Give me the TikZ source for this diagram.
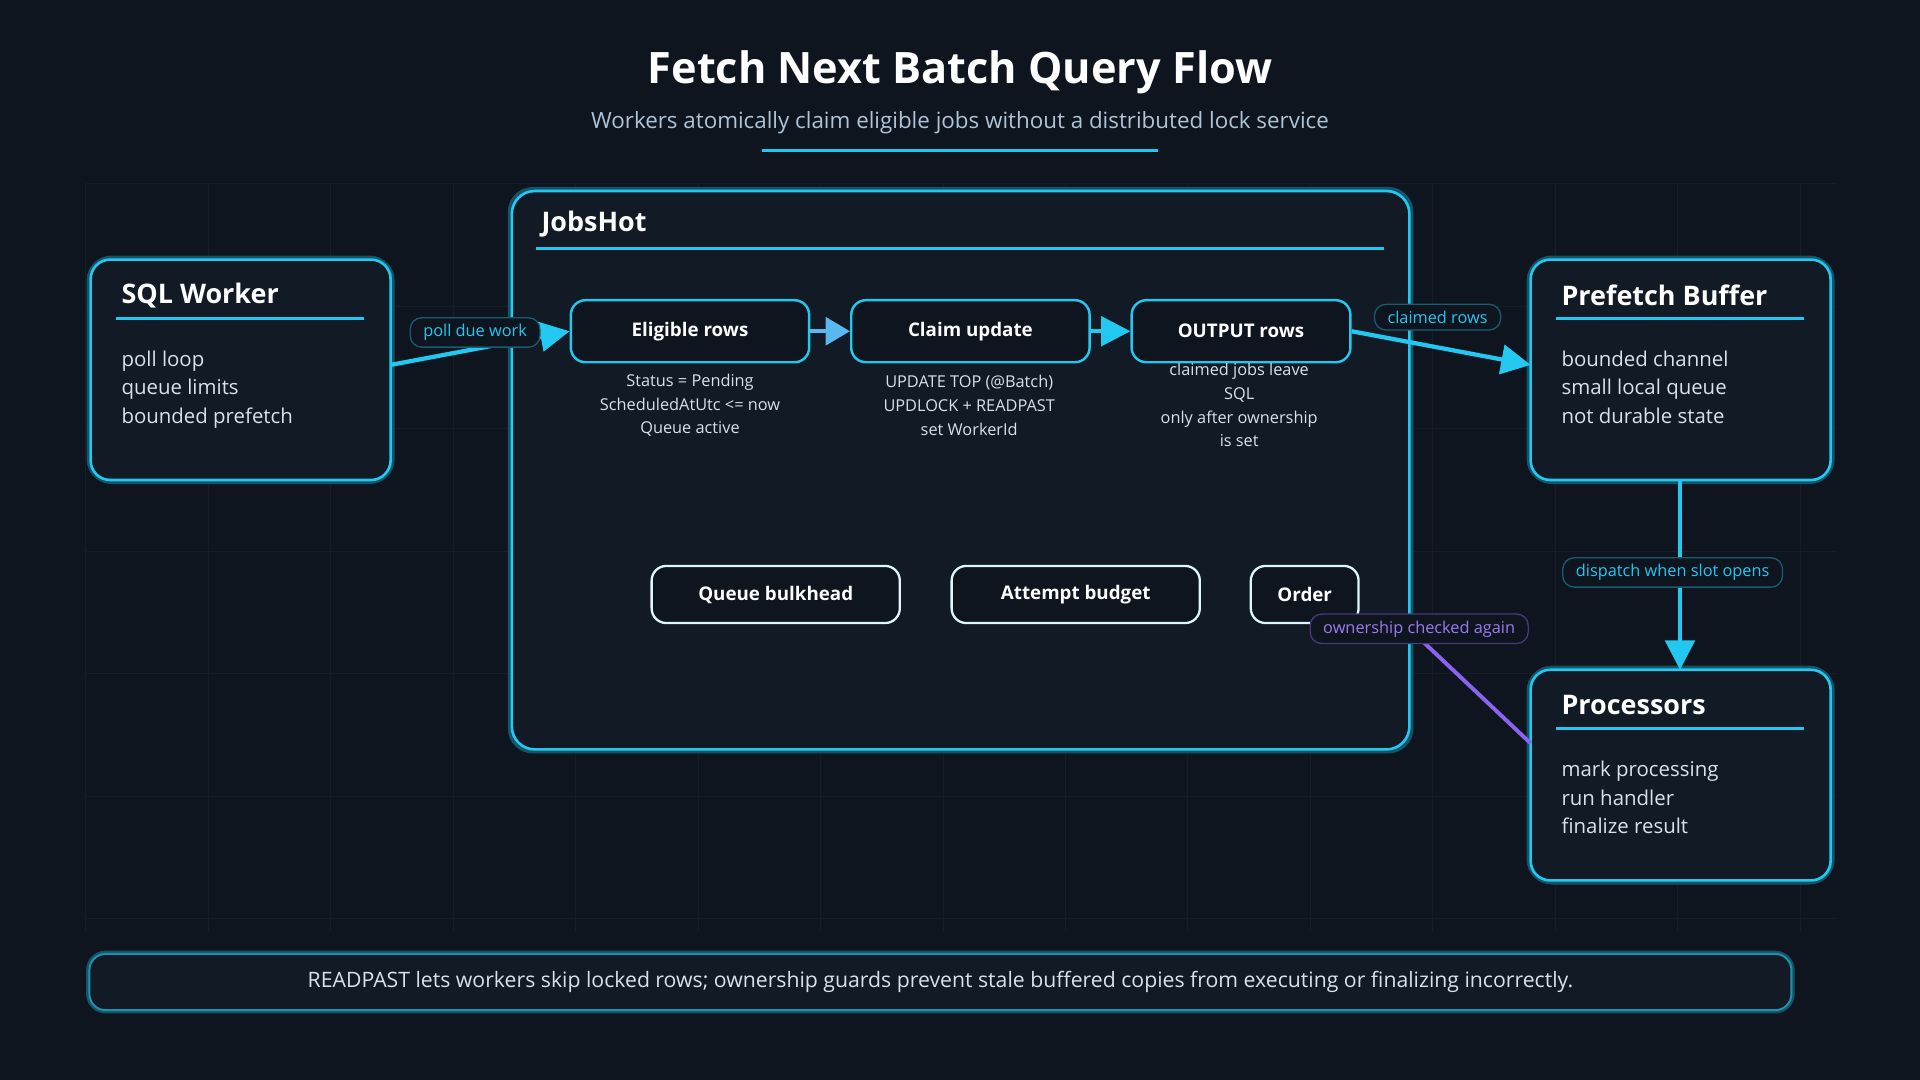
\documentclass[tikz,border=0pt]{standalone}
\usepackage{fontspec}
\setmainfont{Open Sans}
\usetikzlibrary{arrows.meta}
\definecolor{bg}{HTML}{0E151E}
\definecolor{panel}{HTML}{111A25}
\definecolor{cy}{HTML}{22C8F0}
\definecolor{lb}{HTML}{5AB8F0}
\definecolor{sub}{HTML}{AFC4D8}
\definecolor{txt}{HTML}{D6E2EE}
\definecolor{pur}{HTML}{8A63F0}
\definecolor{grid}{HTML}{141D28}
\begin{document}
\begin{tikzpicture}[x=0.75pt,y=-0.75pt,
 card/.style={draw=cy,line width=1.6pt,fill=panel,rounded corners=12pt},
 glow/.style={draw=cy!35!bg,line width=5pt,rounded corners=13pt},
 stepbox/.style={draw=cy,line width=1.5pt,fill=bg,rounded corners=9pt,minimum height=38pt,text=white,font=\bfseries\fontsize{11.5}{14}\selectfont},
 gate/.style={draw=white!85!cy,line width=1.4pt,fill=bg,rounded corners=9pt,minimum height=35pt,text=white,font=\bfseries\fontsize{11.5}{14}\selectfont},
 pill/.style={draw=cy!40!bg,line width=0.8pt,fill=bg,rounded corners=7pt,inner xsep=8pt,inner ysep=4pt,text=cy,font=\fontsize{10}{12}\selectfont},
 small/.style={text=txt,font=\fontsize{10}{14.5}\selectfont,align=center},
 body/.style={text=txt,font=\fontsize{12.5}{17.3}\selectfont,align=left,anchor=north west,inner xsep=0pt},
 ctitle/.style={text=white,font=\bfseries\fontsize{16.5}{20}\selectfont,anchor=west,inner xsep=0pt},
 flow/.style={cy,line width=2.6pt,-{Triangle[length=18pt,width=18pt]}},
 sflow/.style={lb,line width=2.6pt,-{Triangle[length=15pt,width=17pt]}}]
\fill[bg] (0,0) rectangle (1568,882);
\useasboundingbox (0,0) rectangle (1568,882);
\foreach \x in {70,170,...,1500} \draw[grid,line width=0.4pt] (\x,150) -- (\x,760);
\foreach \y in {150,250,...,750} \draw[grid,line width=0.4pt] (70,\y) -- (1500,\y);
% title
\node[text=white,font=\bfseries\fontsize{26.5}{32}\selectfont] (title) at (784,59) {Fetch Next Batch Query Flow};
\node[text=sub,font=\fontsize{13.7}{16}\selectfont] (subt) at (784,100) {Workers atomically claim eligible jobs without a distributed lock service};
\draw[cy,line width=1.6pt] (622,123) -- (946,123);
% JobsHot container
\draw[glow] (418,156) rectangle (1151,612);
\draw[card,rounded corners=14pt] (418,156) rectangle (1151,612);
\node[ctitle] (jh) at (442,183) {JobsHot};
\draw[cy,line width=1.6pt] (438,203) -- (1130,203);
% side cards
\foreach \a/\b/\c/\d in {74/212/319/392,1250/212/1495/392,1250/547/1495/719}{
 \draw[glow] (\a,\b) rectangle (\c,\d);
 \draw[card] (\a,\b) rectangle (\c,\d);}
\node[ctitle] at (99,241) {SQL Worker};
\draw[cy,line width=1.6pt] (95,260) -- (297,260);
\node[body] at (99,282) {poll loop\\queue limits\\bounded prefetch};
\node[ctitle] at (1275,241) {Prefetch Buffer};
\draw[cy,line width=1.6pt] (1271,260) -- (1473,260);
\node[body] at (1275,282) {bounded channel\\small local queue\\not durable state};
\node[ctitle] at (1275,576) {Processors};
\draw[cy,line width=1.6pt] (1271,595) -- (1473,595);
\node[body] at (1275,617) {mark processing\\run handler\\finalize result};
\coordinate (sqlR) at (319,298);
\coordinate (pfL) at (1250,298);
\coordinate (pfB) at (1372,392);
\coordinate (prT) at (1372,547);
\coordinate (prL) at (1250,607);
% steps
\node[stepbox,minimum width=146pt] (elig) at (563.5,270.5) {Eligible rows};
\node[stepbox,minimum width=146pt] (claim) at (792.5,270.5) {Claim update};
\node[stepbox,minimum width=134pt] (outp) at (1013.5,270.5) {OUTPUT rows};
\node[small] at (563.5,331) {Status = Pending\\ScheduledAtUtc <= now\\Queue active};
\node[small] at (791.5,331) {UPDATE TOP (@Batch)\\UPDLOCK + READPAST\\set WorkerId};
\begin{scope}
\clip (900,297) rectangle (1130,365);
\node[small] at (1012,331) {claimed jobs leave\\SQL\\only after ownership\\is set};
\end{scope}
\node[gate,minimum width=152pt] (qb) at (633.5,485.5) {Queue bulkhead};
\node[gate,minimum width=152pt] (ab) at (878.5,485.5) {Attempt budget};
\node[gate,minimum width=66pt] (ord) at (1065.5,485.5) {Order};
% connectors
\draw[flow] (sqlR) -- (elig.west);
\node[pill] (l1) at (388,271.5) {poll due work};
\draw[sflow] (elig) -- (claim);
\draw[flow] (claim) -- (outp);
\draw[flow] (outp.east) -- (pfL);
\node[pill] (l2) at (1174,259) {claimed rows};
\draw[flow] (pfB) -- (prT);
\node[pill] (l3) at (1366,467.5) {dispatch when slot opens};
\draw[pur,line width=2.4pt] (prL) -- (1160,522);
\node[pill,text=pur!85!white,draw=pur!45!bg] (l4) at (1159,513.5) {ownership checked again};
% footer
\draw[cy!35!bg,line width=4pt,rounded corners=10pt] (73,779) rectangle (1463,825);
\draw[cy!70!bg,line width=1.2pt,fill=panel,rounded corners=10pt] (73,779) rectangle (1463,825);
\node[text=txt,font=\fontsize{13}{16}\selectfont] (foot) at (768,802) {READPAST lets workers skip locked rows; ownership guards prevent stale buffered copies from executing or finalizing incorrectly.};
\end{tikzpicture}
\end{document}
